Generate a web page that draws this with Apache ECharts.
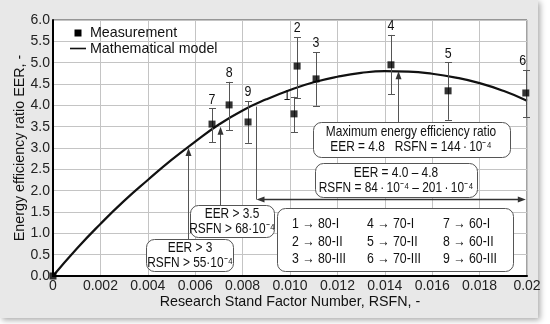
<!DOCTYPE html>
<html>
<head>
<meta charset="utf-8">
<script src="https://cdn.jsdelivr.net/npm/echarts@6/dist/echarts.min.js"></script>
<style>
html,body{margin:0;padding:0;background:#fff;}
#c{width:550px;height:324px;}
</style>
</head>
<body>
<div id="c"></div>
<script>
// ---------------- data ----------------
const xTickLabels = ['0','0.002','0.004','0.006','0.008','0.010','0.012','0.014','0.016','0.018','0.02'];
const yTickLabels = ['0.0','0.5','1.0','1.5','2.0','2.5','3.0','3.5','4.0','4.5','5.0','5.5','6.0'];

const pointLabels = ['1','2','3','4','5','6','7','8','9'];
const rsfn     = [0.01017, 0.01030, 0.01110, 0.01426, 0.01667, 0.01995, 0.00671, 0.00743, 0.00823];
const eer      = [3.80, 4.92, 4.62, 4.95, 4.34, 4.29, 3.56, 4.01, 3.61];
const eerLow   = [3.37, 4.17, 3.99, 4.26, 3.66, 3.73, 3.14, 3.42, 3.12];
const eerHigh  = [4.20, 5.60, 5.25, 5.65, 5.01, 4.83, 3.93, 4.55, 4.10];
const originRsfn = [0];
const originEer  = [0];

const modelRsfn = [0,0.001,0.002,0.003,0.004,0.005,0.006,0.007,0.008,0.009,0.010,0.011,0.012,0.013,0.014,0.015,0.016,0.017,0.018,0.019,0.020];
const modelEer  = [0,0.64,1.22,1.76,2.25,2.72,3.15,3.55,3.88,4.14,4.36,4.54,4.67,4.76,4.80,4.79,4.74,4.65,4.52,4.34,4.11];

const legendRows = [
  ['1 \u2192 80-I',   '4 \u2192 70-I',   '7 \u2192 60-I'],
  ['2 \u2192 80-II',  '5 \u2192 70-II',  '8 \u2192 60-II'],
  ['3 \u2192 80-III', '6 \u2192 70-III', '9 \u2192 60-III']
];

// ---------------- fonts ----------------
const FAM  = '"Liberation Sans", Arial, sans-serif';
const FS = {tick:14, name:14.3, legend:15, ann:14.5, pl:15.5};
const SX = {legend:0.95, ann:0.82, pl:0.8};

const INK = '#111';
const LINE = '#555';

const chart = echarts.init(document.getElementById('c'), null, {renderer:'canvas'});

const errData = rsfn.map((x,i)=>[x, eer[i], eerLow[i], eerHigh[i], i]);
const labelShift = {'1':[-7,8], '6':[-3,0]};

const option = {
  animation:false,
  backgroundColor:'#fff',
  grid:{left:53,right:23,top:20,bottom:48,show:true,backgroundColor:'#fff',borderColor:'#444',borderWidth:1,containLabel:false,outerBoundsMode:'none'},
  xAxis:{
    type:'value',min:0,max:0.02,interval:0.002,
    name:'Research Stand Factor Number, RSFN, -',nameLocation:'middle',nameGap:19,nameMoveOverlap:false,
    nameTextStyle:{fontFamily:FAM,fontSize:FS.name,color:INK,verticalAlign:'top'},
    axisLine:{show:true,onZero:false,lineStyle:{color:'#000',width:2}},
    axisTick:{show:false},
    axisLabel:{margin:3,fontFamily:FAM,fontSize:FS.tick,color:'#222',
      formatter:(v)=>xTickLabels[Math.round(v/0.002)]},
    splitLine:{show:true,lineStyle:{color:'#c4c4c4',width:1}}
  },
  yAxis:{
    type:'value',min:0,max:6,interval:0.5,
    name:'Energy efficiency ratio EER, -',nameLocation:'middle',nameGap:26,nameMoveOverlap:false,
    nameTextStyle:{fontFamily:FAM,fontSize:FS.name,color:INK},
    axisLine:{show:true,onZero:false,lineStyle:{color:'#000',width:2}},
    axisTick:{show:false},
    axisLabel:{margin:3,fontFamily:FAM,fontSize:FS.tick,color:'#222',
      formatter:(v)=>yTickLabels[Math.round(v/0.5)]},
    splitLine:{show:true,lineStyle:{color:'#c4c4c4',width:1}}
  },
  series:[
    {
      name:'Mathematical model',type:'line',smooth:0.5,symbol:'none',z:3,
      data:modelRsfn.map((x,i)=>[x,modelEer[i]]),
      lineStyle:{color:INK,width:2.2}
    },
    {
      name:'errors',type:'custom',z:4,clip:false,
      data:errData,
      renderItem:function(params, api){
        const x = api.value(0), lo = api.value(2), hi = api.value(3), idx = api.value(4);
        const pt = api.coord([x,hi]), pb = api.coord([x,lo]);
        const X = Math.round(pt[0]) + 0.5;
        const hw = 3.5;
        const st = {stroke:LINE,lineWidth:1,fill:null};
        const lab = pointLabels[idx];
        const sh = labelShift[lab] || [0,0];
        return {type:'group',children:[
          {type:'line',shape:{x1:X,y1:pt[1],x2:X,y2:pb[1]},style:st},
          {type:'line',shape:{x1:X-hw,y1:Math.round(pt[1])+0.5,x2:X+hw,y2:Math.round(pt[1])+0.5},style:st},
          {type:'line',shape:{x1:X-hw,y1:Math.round(pb[1])+0.5,x2:X+hw,y2:Math.round(pb[1])+0.5},style:st},
          {type:'text',x:pt[0]+sh[0],y:pt[1]-1+sh[1],scaleX:SX.pl,style:{text:lab,align:'center',verticalAlign:'bottom',fontFamily:FAM,fontSize:FS.pl,fill:INK}}
        ]};
      }
    },
    {
      name:'Measurement',type:'scatter',symbol:'rect',symbolSize:7,z:5,clip:false,
      data:rsfn.map((x,i)=>[x,eer[i]]).concat(originRsfn.map((x,i)=>[x,originEer[i]])),
      itemStyle:{color:'#000'}
    }
  ]
};
chart.setOption(option);

// ---------------- annotations ----------------
const P = (x,y)=>chart.convertToPixel({gridIndex:0},[x,y]);
const g = [];
g.push({type:'rect',z:-10,silent:true,shape:{x:0,y:0,width:538,height:318},
  style:{fill:'#e8e8e8',shadowBlur:6,shadowColor:'rgba(0,0,0,0.35)',shadowOffsetX:2,shadowOffsetY:2}});

function txt(x,y,t,size,align,sx){
  return {type:'text',z:20,x:x,y:y,scaleX:sx||1,style:{text:t,align:align||'center',verticalAlign:'middle',fontFamily:FAM,fontSize:size,fill:INK}};
}
function box(x,y,w,h){
  return {type:'rect',z:19,shape:{x:x+0.5,y:y+0.5,width:w,height:h,r:8},style:{fill:'#fff',stroke:'#555',lineWidth:1}};
}
function vline(X,y1,y2){
  return {type:'line',z:18,shape:{x1:X,y1:y1,x2:X,y2:y2},style:{stroke:LINE,lineWidth:1}};
}
function headUp(X,y){
  return {type:'polygon',z:18,shape:{points:[[X,y],[X-3,y+8],[X+3,y+8]]},style:{fill:'#333'}};
}
function arrowUp(xVal, yVal, yFromPx){
  const p = P(xVal,yVal);
  const X = Math.round(p[0])+0.5;
  g.push(vline(X, yFromPx, p[1]+6));
  g.push(headUp(X, p[1]));
}
arrowUp(0.00570, 3.0, 239);
arrowUp(0.00705, 3.5, 205);
arrowUp(0.01456, 4.8, 122);

(function(){
  const pl = P(0.00858, 3.97), pr = P(0.01995, 4.0);
  const Y = 199.5, XL = Math.round(pl[0])+0.5, XR = pr[0];
  g.push(vline(XL, pl[1], Y));
  g.push({type:'line',z:18,shape:{x1:XL+5,y1:Y,x2:XR-5,y2:Y},style:{stroke:'#333',lineWidth:1.3}});
  g.push({type:'polygon',z:18,shape:{points:[[XL,Y],[XL+8,Y-3],[XL+8,Y+3]]},style:{fill:'#333'}});
  g.push({type:'polygon',z:18,shape:{points:[[XR,Y],[XR-8,Y-3],[XR-8,Y+3]]},style:{fill:'#333'}});
})();

const DOT = '\u2009\u00b7\u2009';
const DOTS = '\u00b7';
const A = FS.ann, S = SX.ann;
g.push(box(313,122,197,35));
g.push(txt(411,131.5,'Maximum energy efficiency ratio',A,'center',S));
g.push(txt(411,147,'EER = 4.8   RSFN = 144'+DOT+'10\u207b\u2074',A,'center',S));

g.push(box(315,163,162,34));
g.push(txt(396,172.5,'EER = 4.0 \u2013 4.8',A,'center',S));
g.push(txt(396,188,'RSFN = 84'+DOT+'10\u207b\u2074 \u2013 201'+DOT+'10\u207b\u2074',A,'center',S));

g.push(box(190,205,84,32));
g.push(txt(232,213.5,'EER > 3.5',A,'center',S));
g.push(txt(232,228.5,'RSFN > 68'+DOTS+'10\u207b\u2074',A,'center',S));

g.push(box(146,239,87,32));
g.push(txt(190,247.5,'EER > 3',A,'center',S));
g.push(txt(190,262.5,'RSFN > 55'+DOTS+'10\u207b\u2074',A,'center',S));

g.push(box(277,208,236,63));
const colX = [292,367,443], rowY = [224,241.5,259];
legendRows.forEach((row,r)=>row.forEach((t,c)=>g.push(txt(colX[c],rowY[r],t,A+0.5,'left',S))));

g.push({type:'rect',z:20,shape:{x:74.5,y:29.5,width:7,height:7},style:{fill:'#000'}});
g.push(txt(90,33,'Measurement',FS.legend,'left',SX.legend));
g.push({type:'line',z:20,shape:{x1:70,y1:48.5,x2:86,y2:48.5},style:{stroke:INK,lineWidth:1.6}});
g.push(txt(90,48.5,'Mathematical model',FS.legend,'left',SX.legend));

chart.setOption({graphic:{elements:g}});
</script>
</body>
</html>
